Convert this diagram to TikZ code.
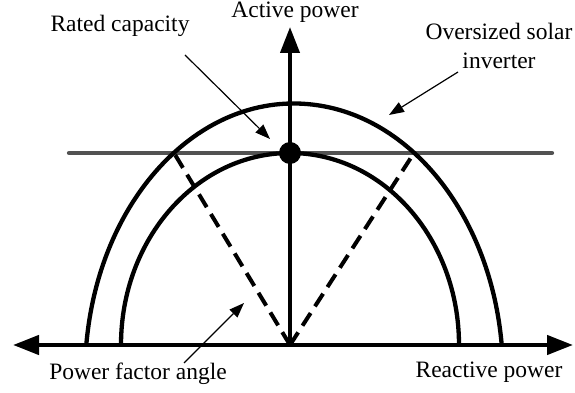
\documentclass[tikz,border=0pt]{standalone}
\usepackage{fontspec}
\setmainfont{Liberation Serif}
\usetikzlibrary{arrows.meta}
\begin{document}
\begin{tikzpicture}[x=1pt,y=1pt,
  axisline/.style={line width=4.5pt},
  bigtip/.style={-{Triangle[length=26pt,width=19pt]}},
  curve/.style={line width=4.3pt},
  dashline/.style={line width=4pt,dash pattern=on 15pt off 8pt},
  refline/.style={line width=4.3pt,color=black!68,line cap=round},
  note/.style={line width=1.2pt,-{Triangle[length=15pt,width=11pt]}},
  lbl/.style={font=\fontsize{23.5}{29}\selectfont,inner sep=0pt,anchor=base}]
\useasboundingbox (0,0) rectangle (575,393);
% axes points
\coordinate (O) at (290,48);
\coordinate (L) at (13,48);
\coordinate (R) at (573,48);
\coordinate (T) at (290,366);
% reference (rated capacity) line
\coordinate (hl) at (69,240);
\coordinate (hr) at (552,240);
\draw[refline] (hl) -- (hr);
% outer (oversized) curve
\draw[curve] (294,18) ++(173.66:209 and 271.5) arc[start angle=173.66,end angle=6.34,x radius=209,y radius=271.5];
% inner (rated) curve
\draw[curve] (O) ++(180:169 and 192) arc[start angle=180,end angle=0,x radius=169,y radius=192];
% intersections outer curve / reference line
\coordinate (pl) at (174,240);
\coordinate (pr) at (414,240);
\draw[dashline] (O) -- (pl);
\draw[dashline] (O) -- (pr);
% axes
\draw[axisline,{Triangle[length=26pt,width=19pt]}-{Triangle[length=26pt,width=19pt]}] (L) -- (R);
\draw[line width=4pt,bigtip] (O) -- (T);
% rated point
\node[circle,fill=black,inner sep=0pt,minimum size=22pt] (dot) at (290,240) {};
% labels
\node[lbl] (active) at (295,375) {Active power};
\node[lbl] (rated) at (120,361) {Rated capacity};
\node[lbl,align=center] (over) at (499,324.7) {Oversized solar\\inverter};
\node[lbl] (pfa) at (138,13) {Power factor angle};
\node[lbl] (react) at (489,15) {Reactive power};
% annotation arrows
\coordinate (a1s) at (185,338);
\coordinate (a1e) at (270,254);
\draw[note] (a1s) -- (a1e);
\coordinate (a2s) at (458,321);
\coordinate (a2e) at (389,278);
\draw[note] (a2s) -- (a2e);
\coordinate (a3s) at (184,30);
\coordinate (a3e) at (244,90);
\draw[note] (a3s) -- (a3e);
\end{tikzpicture}
\end{document}
